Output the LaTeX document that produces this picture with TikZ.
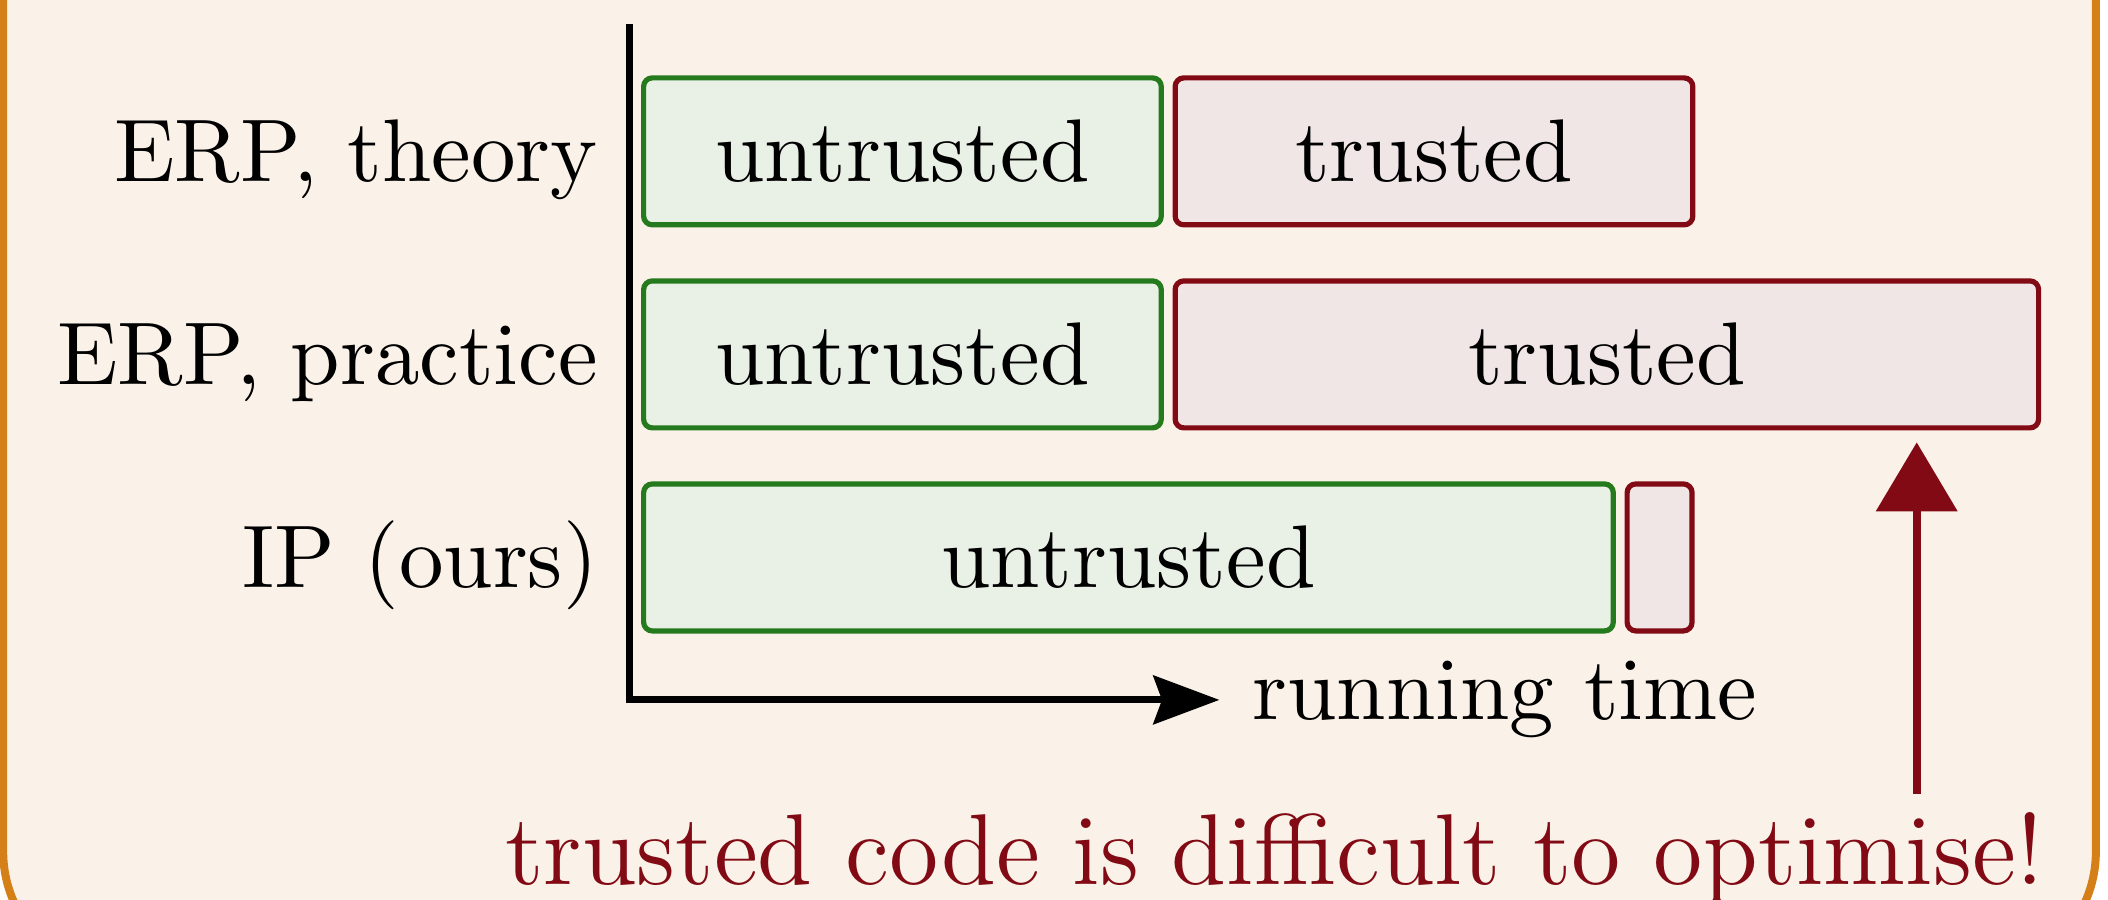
\documentclass[tikz,border=0pt]{standalone}
\usepackage{tikz}
\usepackage{xcolor}
\usetikzlibrary{positioning}
\usetikzlibrary{arrows.meta}

\definecolor{boxcream}{HTML}{FAF2E8}
\definecolor{frameorange}{HTML}{D47F17}
\definecolor{untrgreen}{HTML}{247A1D}
\definecolor{untrfill}{HTML}{E9F0E6}
\definecolor{trudred}{HTML}{820A14}
\definecolor{trufill}{HTML}{F1E6E6}

\tikzset{
  untr/.style={draw=untrgreen, fill=untrfill, semithick,
    rounded corners=1pt, minimum height=0.595cm},
  tru/.style={draw=trudred, fill=trufill, semithick,
    rounded corners=1pt, minimum height=0.595cm},
  rowlabel/.style={anchor=base east},
}

\begin{document}
\fontsize{10.25pt}{12.3pt}\selectfont
\begin{tikzpicture}
% Frame
\useasboundingbox (-2.547,-0.810) rectangle (5.988,2.834);
\clip (-2.547,-0.810) rectangle (5.988,2.834);
\draw[frameorange, fill=boxcream, line width=0.92pt, rounded corners=0.5cm]
    (-2.534,-1.114) rectangle (5.939,3.6);

% Axes
\coordinate (O) at (0,0);
\draw[thick, -{Stealth[length=7.6pt, width=5.6pt, inset=1pt]}]
    (0,2.737) -- (O) -- (2.39,0) node[right] (xlabel) {running time};

% ERP, theory
\node[untr, minimum width=2.096cm] (u1) at (1.107,2.221) {untrusted};
\node[tru, minimum width=2.096cm, right=0.035cm of u1] (t1) {trusted};

% ERP, practice
\node[untr, minimum width=2.096cm, below=0.206cm of u1] (u2) {untrusted};
\node[tru, minimum width=3.496cm, right=0.035cm of u2] (t2) {trusted};

% IP (ours)
\node[untr, minimum width=3.926cm,
    below=0.206cm of u2.south west, anchor=north west] (u3) {untrusted};
\node[tru, minimum width=0.263cm, right=0.035cm of u3] (t3) {};

% Row labels
\node[rowlabel] (l1) at (u1.base -| O) {ERP, theory};
\node[rowlabel] (l2) at (u2.base -| O) {ERP, practice};
\node[rowlabel] (l3) at (u3.base -| O) {IP (ours)};

% Remark
\node[text=trudred, anchor=base, inner sep=2pt,
    font=\fontsize{11.6pt}{14pt}\selectfont] (note) at (2.613,-0.749)
    {trusted code is difficult to optimise!};
\coordinate (tip) at ([xshift=-0.504cm, yshift=-0.048cm]t2.south east);
\draw[trudred, line width=0.95pt, -{Triangle[length=7.95pt, width=9.2pt]}]
    (note.north -| tip) -- (tip);

\end{tikzpicture}
\end{document}
